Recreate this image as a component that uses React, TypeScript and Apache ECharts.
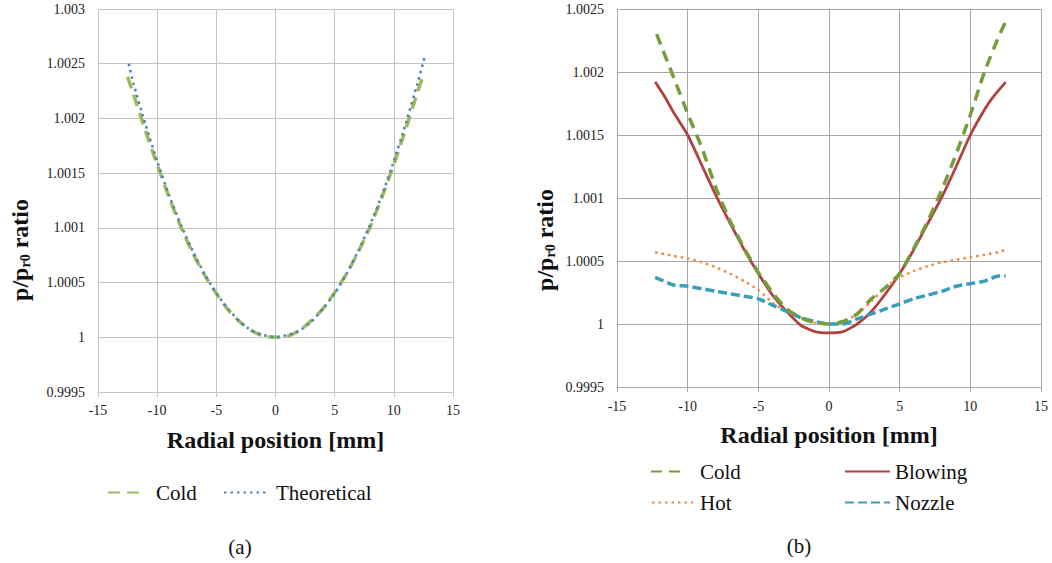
import React, { useEffect, useRef } from "react";
import * as echarts from "echarts";

// ---- Chart (a) ----
const coldAX = [-12.5, -12, -11, -10, -9, -8, -7, -6, -5, -4, -3, -2, -1, 0, 1, 2, 3, 4, 5, 6, 7, 8, 9, 10, 11, 12, 12.5];
const coldAY = [1.00238, 1.00222, 1.00189, 1.00158, 1.00128, 1.00101, 1.00077, 1.00057, 1.0004, 1.00025, 1.00014, 1.00006, 1.00001, 1.0, 1.00001, 1.00006, 1.00015, 1.00026, 1.00041, 1.00058, 1.00078, 1.00101, 1.00128, 1.00158, 1.0019, 1.00224, 1.0024];
const theoAX = [-12.4, -12, -11, -10, -9, -8, -7, -6, -5, -4, -3, -2, -1, 0, 1, 2, 3, 4, 5, 6, 7, 8, 9, 10, 11, 12, 12.6];
const theoAY = [1.0025, 1.00232, 1.00195, 1.00161, 1.0013, 1.00103, 1.00079, 1.00058, 1.0004, 1.00026, 1.00014, 1.00006, 1.00002, 1.0, 1.00002, 1.00006, 1.00014, 1.00026, 1.0004, 1.00058, 1.00079, 1.00103, 1.0013, 1.00161, 1.00195, 1.00232, 1.00256];

// ---- Chart (b) ----
const coldBX = [-12.2, -11, -10, -9, -8, -7, -6, -5, -4, -3, -2, -1, 0, 1, 2, 3, 4, 5, 6, 7, 8, 9, 10, 11, 12, 12.5];
const coldBY = [1.0023, 1.00196, 1.00167, 1.0014, 1.00108, 1.00082, 1.0006, 1.00041, 1.00025, 1.00012, 1.00005, 1.00001, 1.0, 1.00002, 1.00008, 1.0002, 1.00029, 1.0004, 1.0006, 1.00082, 1.00107, 1.00135, 1.00166, 1.002, 1.00228, 1.0024];
const blowX = [-12.3, -11.6, -11, -10, -9, -8, -7, -6, -5, -4, -3, -2, -1, 0, 1, 2, 3, 4, 5, 6, 7, 8, 9, 10, 11, 11.6, 12.5];
const blowY = [1.00192, 1.0018, 1.00168, 1.0015, 1.00126, 1.00102, 1.0008, 1.00059, 1.0004, 1.00023, 1.0001, 0.99999, 0.99994, 0.99993, 0.99994, 1.0, 1.0001, 1.00024, 1.0004, 1.00059, 1.0008, 1.00101, 1.00125, 1.0015, 1.0017, 1.0018, 1.00192];
const hotX = [-12.3, -11, -10, -9, -8, -7, -6, -5, -4, -3, -2, -1, 0, 1, 2, 3, 4, 5, 6, 7, 8, 9, 10, 11, 12, 12.5];
const hotY = [1.00057, 1.00054, 1.00052, 1.00049, 1.00045, 1.0004, 1.00034, 1.00027, 1.00017, 1.0001, 1.00005, 1.00001, 1.0, 1.00002, 1.00008, 1.00018, 1.00029, 1.00037, 1.00042, 1.00046, 1.00049, 1.00051, 1.00053, 1.00055, 1.00057, 1.00059];
const nozX = [-12.3, -11, -10, -9, -8, -7, -6, -5, -4, -3, -2, -1, 0, 1, 2, 3, 4, 5, 6, 7, 8, 9, 10, 11, 12, 12.5];
const nozY = [1.00037, 1.00031, 1.0003, 1.00028, 1.00026, 1.00024, 1.00022, 1.0002, 1.00015, 1.0001, 1.00005, 1.00002, 1.0, 1.0, 1.00004, 1.00008, 1.00012, 1.00016, 1.0002, 1.00023, 1.00026, 1.0003, 1.00032, 1.00034, 1.00038, 1.00038];

// ---- Axes and tick labels ----
const xTicks = { min: -15, max: 15, interval: 5 };
const yTicksA = { min: 0.9995, max: 1.003, interval: 0.0005 };
const yTicksB = { min: 0.9995, max: 1.0025, interval: 0.0005 };
const xAxisTitle = "Radial position [mm]";

const FONT = "Liberation Serif";

const zip = (xs: number[], ys: number[]) => xs.map((x, i) => [x, ys[i]]);

export default function App() {
  const ref = useRef<HTMLDivElement>(null);
  useEffect(() => {
    if (!ref.current) return;
    const chart = echarts.init(ref.current, undefined, { renderer: "svg" });
    const fmtY = (v: number) => String(parseFloat(v.toFixed(4)));
    const mkX = (gridIndex: number, gridColor: string, labelMargin: number) => ({
      type: "value",
      gridIndex,
      ...xTicks,
      name: xAxisTitle,
      nameLocation: "middle",
      nameGap: 36,
      nameTextStyle: { fontFamily: FONT, fontSize: 24, fontWeight: "bold", color: "#111" },
      axisLine: { show: true, lineStyle: { color: gridColor, width: 1 } },
      axisTick: { show: true, length: 5, lineStyle: { color: gridColor } },
      axisLabel: { fontFamily: FONT, fontSize: 14, color: "#222", margin: labelMargin },
      splitLine: { show: true, lineStyle: { color: gridColor, width: 1 } },
    });
    const mkY = (gridIndex: number, ticks: any, gridColor: string) => ({
      type: "value",
      gridIndex,
      ...ticks,
      axisLine: { show: true, lineStyle: { color: gridColor, width: 1 } },
      axisTick: { show: false },
      axisLabel: { fontFamily: FONT, fontSize: 14, color: "#222", margin: 13, formatter: fmtY },
      splitLine: { show: true, lineStyle: { color: gridColor, width: 1 } },
    });
    const line = (name: string, idx: number, xs: number[], ys: number[], color: string, width: number, type: any, z = 2) => ({
      type: "line",
      name,
      xAxisIndex: idx,
      yAxisIndex: idx,
      data: zip(xs, ys),
      showSymbol: false,
      symbol: "none",
      smooth: 0.2,
      z,
      lineStyle: { color, width, type },
      itemStyle: { color },
    });
    const leg = (name: string, left: number, top: number, w: number, pad: number) => ({
      data: [name],
      left,
      top,
      padding: 0,
      itemWidth: w,
      itemHeight: 14,
      selectedMode: false,
      itemStyle: { color: "rgba(0,0,0,0)", borderWidth: 0, opacity: 0 },
      formatter: (n: string) => n.replace(/ \(b\)$/, ""),
      textStyle: { fontFamily: FONT, fontSize: 21, color: "#111", padding: [0, 0, 0, pad] },
    });
    const yTitle = (x: number, y: number) => ({
      type: "text",
      x,
      y,
      rotation: Math.PI / 2,
      silent: true,
      style: {
        text: "{m|p/p}{s|r0}{m| ratio}",
        align: "center",
        verticalAlign: "middle",
        rich: {
          m: { fontFamily: FONT, fontSize: 24, fontWeight: "bold", fill: "#111", lineHeight: 24, verticalAlign: "middle" },
          s: { fontFamily: FONT, fontSize: 14, fontWeight: "bold", fill: "#111", lineHeight: 10, verticalAlign: "bottom" },
        },
      },
    });
    chart.setOption({
      animation: false,
      grid: [
        { left: 98, right: 599, top: 9, bottom: 171, containLabel: false },
        { left: 617, right: 11, top: 9, bottom: 176, containLabel: false },
      ],
      xAxis: [mkX(0, "#C4C4C4", 11), mkX(1, "#A8A8A8", 12)],
      yAxis: [mkY(0, yTicksA, "#C4C4C4"), mkY(1, yTicksB, "#A8A8A8")],
      legend: [
        leg("Cold", 107, 482, 35, 8),
        leg("Theoretical", 223, 482, 42, 5),
        leg("Cold (b)", 650, 461, 35, 9),
        leg("Hot", 651, 492, 41, 2),
        leg("Blowing", 844, 461, 45, 0),
        leg("Nozzle", 844, 492, 45, 0),
      ],
      graphic: [
        yTitle(20, 250),
        yTitle(545, 240),
        { type: "text", x: 240, y: 547, silent: true, style: { text: "(a)", fontFamily: FONT, fontSize: 21, fill: "#111", align: "center", verticalAlign: "middle" } },
        { type: "text", x: 799, y: 546, silent: true, style: { text: "(b)", fontFamily: FONT, fontSize: 21, fill: "#111", align: "center", verticalAlign: "middle" } },
      ],
      series: [
        line("Cold", 0, coldAX, coldAY, "#9BBB59", 3.5, [12, 7]),
        line("Theoretical", 0, theoAX, theoAY, "#4F81BD", 2.5, [2.5, 4], 3),
        line("Cold (b)", 1, coldBX, coldBY, "#779C3C", 3.5, [11, 7], 3),
        line("Blowing", 1, blowX, blowY, "#B0413E", 2.8, "solid", 2),
        line("Hot", 1, hotX, hotY, "#EE8A3E", 2.5, [2.5, 4], 2),
        line("Nozzle", 1, nozX, nozY, "#3A9EB8", 3.5, [9, 4], 2),
      ],
    });
    return () => chart.dispose();
  }, []);
  return (
    <div
      ref={ref}
      style={{ position: "absolute", left: 0, top: 0, width: 1052, height: 563, background: "#fff" }}
    />
  );
}
